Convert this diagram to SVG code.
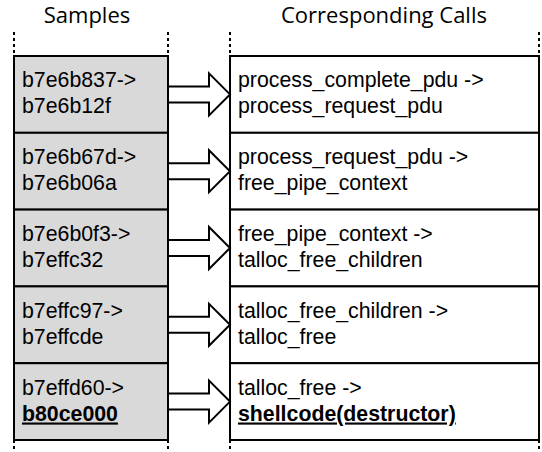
<svg xmlns="http://www.w3.org/2000/svg" width="542" height="452" viewBox="0 0 542 452">
  <style>
    .hdr { font-family: "Open Sans", "Liberation Sans", sans-serif; font-size: 22px; fill: #000; text-anchor: middle; }
    .lbl { font-family: "Liberation Sans", Arial, sans-serif; font-size: 21.3px; fill: #000; }
    .em { font-weight: bold; text-decoration: underline; }
    .sample { fill: #d9d9d9; stroke: #000; stroke-width: 2; }
    .call { fill: #fff; stroke: #000; stroke-width: 2; }
    .guide { stroke: #000; stroke-width: 2; stroke-dasharray: 3 3; fill: none; }
    .arrow { fill: #fff; stroke: #000; stroke-width: 2; stroke-linejoin: miter; }
  </style>

  <!-- column headers -->
  <text class="hdr" x="87" y="23">Samples</text>
  <text class="hdr" x="384" y="23">Corresponding Calls</text>

  <!-- sample cells -->
  <g id="sample1"><rect class="sample" x="14" y="56" width="154" height="76.8"/>
    <text class="lbl" x="22" y="87.3">b7e6b837-&gt;</text><text class="lbl" x="22" y="113.3">b7e6b12f</text></g>
  <g id="sample2"><rect class="sample" x="14" y="132.8" width="154" height="76.8"/>
    <text class="lbl" x="22" y="164.1">b7e6b67d-&gt;</text><text class="lbl" x="22" y="190.1">b7e6b06a</text></g>
  <g id="sample3"><rect class="sample" x="14" y="209.6" width="154" height="76.8"/>
    <text class="lbl" x="22" y="240.9">b7e6b0f3-&gt;</text><text class="lbl" x="22" y="266.9">b7effc32</text></g>
  <g id="sample4"><rect class="sample" x="14" y="286.4" width="154" height="76.8"/>
    <text class="lbl" x="22" y="317.7">b7effc97-&gt;</text><text class="lbl" x="22" y="343.7">b7effcde</text></g>
  <g id="sample5"><rect class="sample" x="14" y="363.2" width="154" height="76.8"/>
    <text class="lbl" x="22" y="394.5">b7effd60-&gt;</text><text class="lbl em" x="22" y="420.5">b80ce000</text></g>

  <!-- call cells -->
  <g id="call1"><rect class="call" x="230" y="56" width="309" height="76.8"/>
    <text class="lbl" x="238" y="87.3">process_complete_pdu -&gt;</text><text class="lbl" x="238" y="113.3">process_request_pdu</text></g>
  <g id="call2"><rect class="call" x="230" y="132.8" width="309" height="76.8"/>
    <text class="lbl" x="238" y="164.1">process_request_pdu -&gt;</text><text class="lbl" x="238" y="190.1">free_pipe_context</text></g>
  <g id="call3"><rect class="call" x="230" y="209.6" width="309" height="76.8"/>
    <text class="lbl" x="238" y="240.9">free_pipe_context -&gt;</text><text class="lbl" x="238" y="266.9">talloc_free_children</text></g>
  <g id="call4"><rect class="call" x="230" y="286.4" width="309" height="76.8"/>
    <text class="lbl" x="238" y="317.7">talloc_free_children -&gt;</text><text class="lbl" x="238" y="343.7">talloc_free</text></g>
  <g id="call5"><rect class="call" x="230" y="363.2" width="309" height="76.8"/>
    <text class="lbl" x="238" y="394.5">talloc_free -&gt;</text><text class="lbl em" x="238" y="420.5">shellcode(destructor)</text></g>

  <!-- column guide lines -->
  <g id="guides">
    <line class="guide" x1="14" y1="32" x2="14" y2="452"/>
    <line class="guide" x1="168" y1="32" x2="168" y2="452"/>
    <line class="guide" x1="230" y1="32" x2="230" y2="452"/>
    <line class="guide" x1="539" y1="32" x2="539" y2="452"/>
  </g>

  <!-- block arrows from samples to calls -->
  <g id="connectors">
    <path class="arrow" d="M169,86.4 H209 V73.4 L230,94.4 L209,115.4 V102.4 H169"/>
    <path class="arrow" d="M169,163.2 H209 V150.2 L230,171.2 L209,192.2 V179.2 H169"/>
    <path class="arrow" d="M169,240 H209 V227 L230,248 L209,269 V256 H169"/>
    <path class="arrow" d="M169,316.8 H209 V303.8 L230,324.8 L209,345.8 V332.8 H169"/>
    <path class="arrow" d="M169,393.6 H209 V380.6 L230,401.6 L209,422.6 V409.6 H169"/>
  </g>
</svg>
